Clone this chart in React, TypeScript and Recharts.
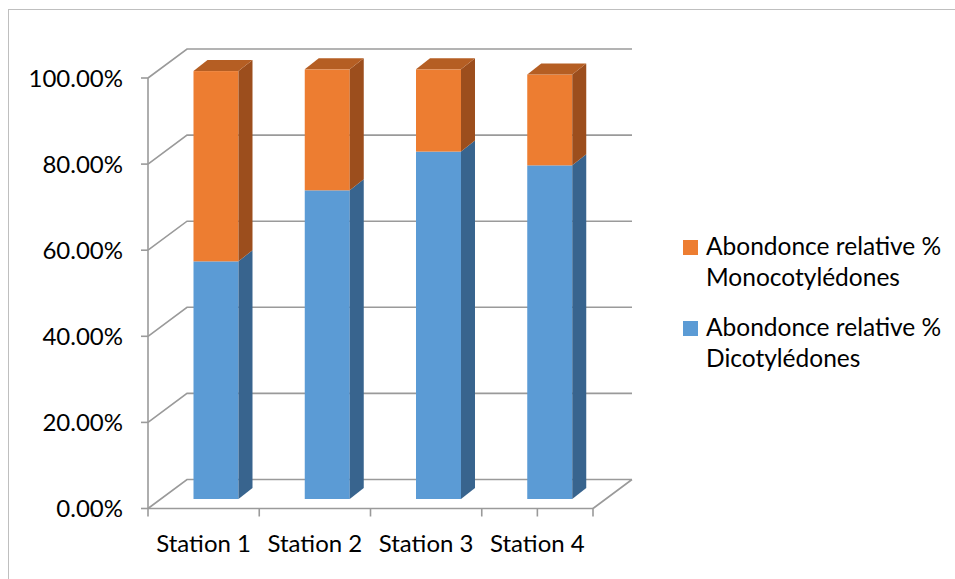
import { BarChart, Bar, XAxis, YAxis, CartesianGrid, Legend } from "recharts";

const STATIONS = ["Station 1", "Station 2", "Station 3", "Station 4"];
const DICOT = [55.2, 71.7, 80.7, 77.5];
const MONOCOT = [44.2, 28.1, 19.1, 21.1];
const Y_TICKS = [0, 20, 40, 60, 80, 100];

const data = STATIONS.map((station, i) => ({
  station,
  dico: DICOT[i],
  mono: MONOCOT[i],
}));

const FONT = "Lato, 'Open Sans', sans-serif";
const GRID = "#9A9A9A";

// chart size inside the frame
const W = 946;
const H = 570;
const MARGIN = { top: 68, right: 362, left: 0, bottom: 31.5 };
const Y_AXIS_W = 139;
const PLOT_W = W - Y_AXIS_W - MARGIN.right;
const BAND = PLOT_W / STATIONS.length;

// oblique depth of the floor / back wall
const FLOOR_DX = 39;
const FLOOR_DY = 29;
// where the bars stand in depth, and how deep they are
const BAR_OX = 12.5;
const BAR_OY = 9.5;
const BAR_DX = 14;
const BAR_DY = 11;

const SHADES: Record<string, { side: string; top: string }> = {
  "#5B9BD5": { side: "#38648E", top: "#4A80B3" },
  "#ED7D31": { side: "#9C4E1D", top: "#B55E23" },
};

function Bar3D(props: any) {
  const { x, y, width, height, fill, showTop } = props;
  if (!height || height <= 0) return null;
  const fx = x + BAR_OX;
  const fy = y - BAR_OY;
  const s = SHADES[fill];
  const side = `M${fx + width},${fy} L${fx + width + BAR_DX},${fy - BAR_DY} L${fx + width + BAR_DX},${fy + height - BAR_DY} L${fx + width},${fy + height} Z`;
  const top = `M${fx},${fy} L${fx + BAR_DX},${fy - BAR_DY} L${fx + width + BAR_DX},${fy - BAR_DY} L${fx + width},${fy} Z`;
  return (
    <g>
      <rect x={fx} y={fy} width={width} height={height} fill={fill} />
      <path d={side} fill={s.side} />
      {showTop && <path d={top} fill={s.top} />}
    </g>
  );
}

function hLine(p: any) {
  const { x1, x2, y1, index } = p;
  let d = `M${x1},${y1} L${x1 + FLOOR_DX},${y1 - FLOOR_DY} L${x2 + FLOOR_DX},${y1 - FLOOR_DY}`;
  if (index === 0 || Math.abs(y1 - (H - MARGIN.bottom - 40)) < 1) {
    d += ` M${x2},${y1} L${x2 + FLOOR_DX},${y1 - FLOOR_DY}`;
  }
  return <path key={`h-${index}`} d={d} stroke={GRID} strokeWidth={1.6} fill="none" />;
}

function vLine(p: any) {
  const { x1, y2, index } = p;
  const l = x1 - BAND / 2;
  let d = `M${l},${y2} L${l},${y2 + 8}`;
  if (index === STATIONS.length - 1) {
    d += ` M${x1 + BAND / 2},${y2} L${x1 + BAND / 2},${y2 + 8}`;
  }
  return <path key={`v-${index}`} d={d} stroke={GRID} strokeWidth={1.6} fill="none" />;
}

function LegendBox(props: any) {
  const items = [...(props.payload || [])].reverse();
  return (
    <div style={{ fontFamily: FONT, fontSize: 24.5, color: "#000" }}>
      {items.map((it: any) => {
        const [a, b] = String(it.value).split("% ");
        return (
          <div key={it.value} style={{ display: "flex", alignItems: "flex-start", marginBottom: 19 }}>
            <div style={{ width: 15, height: 15, background: it.color, marginTop: 10, marginRight: 8 }} />
            <div style={{ lineHeight: "31px", whiteSpace: "nowrap" }}>
              <div>{a}%</div>
              <div>{b}</div>
            </div>
          </div>
        );
      })}
    </div>
  );
}

export default function App() {
  return (
    <div
      style={{
        position: "fixed",
        left: 8,
        top: 9,
        width: W + 1,
        height: H + 1,
        borderLeft: "1px solid #BFBFBF",
        borderTop: "1px solid #BFBFBF",
        boxSizing: "border-box",
        background: "#fff",
      }}
    >
      <BarChart width={W} height={H} data={data} margin={MARGIN} barSize={45} style={{ fontFamily: FONT }}>
        <CartesianGrid horizontal={hLine} vertical={vLine} stroke={GRID} />
        <XAxis
          dataKey="station"
          height={40}
          interval={0}
          axisLine={{ stroke: GRID, strokeWidth: 1.6 }}
          tickLine={false}
          tickSize={8}
          tickMargin={18}
          tick={{ fontSize: 24, fill: "#000", fontFamily: FONT }}
        />
        <YAxis
          width={Y_AXIS_W}
          domain={[0, 100]}
          ticks={Y_TICKS}
          tickFormatter={(v: number) => `${v.toFixed(2)}%`}
          axisLine={{ stroke: GRID, strokeWidth: 1.6 }}
          tickLine={{ stroke: GRID, strokeWidth: 1.6 }}
          tickSize={7}
          tickMargin={18}
          tick={{ fontSize: 24, fill: "#000", fontFamily: FONT }}
        />
        <Bar
          dataKey="dico"
          name="Abondonce relative % Dicotylédones"
          stackId="a"
          fill="#5B9BD5"
          shape={(p: any) => <Bar3D {...p} showTop={false} />}
          isAnimationActive={false}
        />
        <Bar
          dataKey="mono"
          name="Abondonce relative % Monocotylédones"
          stackId="a"
          fill="#ED7D31"
          shape={(p: any) => <Bar3D {...p} showTop />}
          isAnimationActive={false}
        />
        <Legend
          layout="vertical"
          align="center"
          verticalAlign="middle"
          content={LegendBox}
          wrapperStyle={{ left: 674, top: 220, width: 270 }}
        />
      </BarChart>
    </div>
  );
}
